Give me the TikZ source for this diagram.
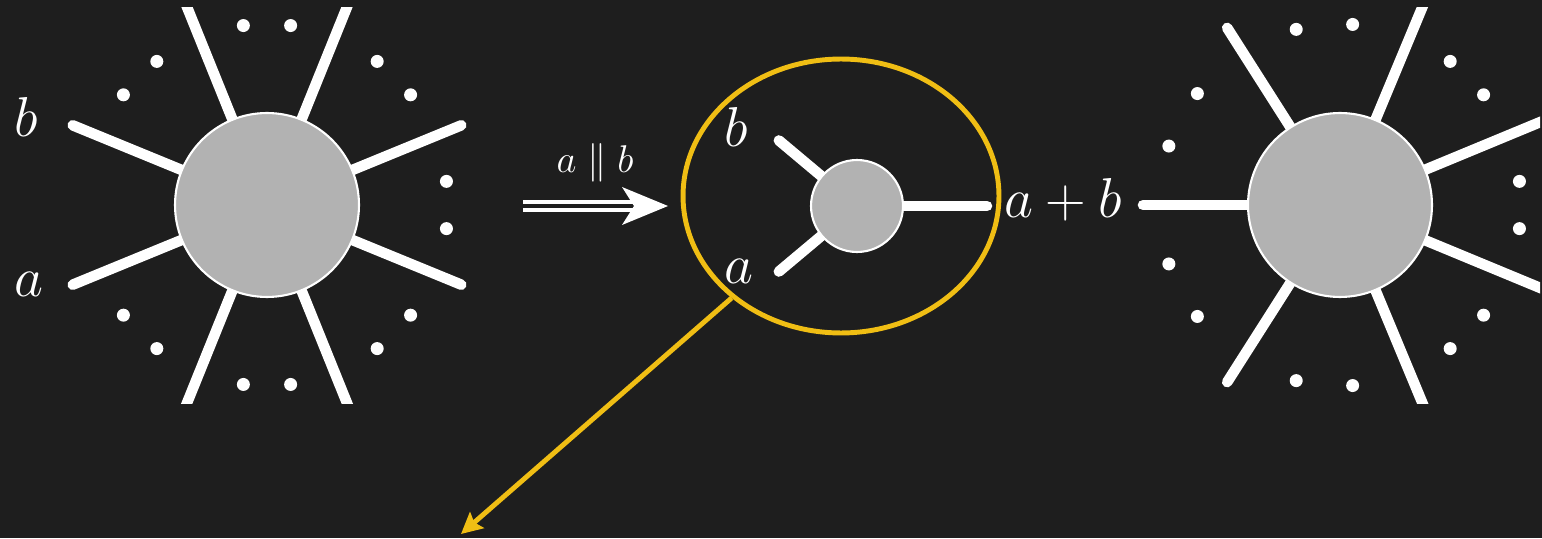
\documentclass[tikz,border=0pt]{standalone}
\usepackage{fix-cm}
\usepackage{amsmath}
\usetikzlibrary{arrows.meta,shapes.geometric}
\definecolor{bgdark}{RGB}{30,30,30}
\definecolor{blobgray}{RGB}{178,178,178}
\definecolor{ringgold}{RGB}{240,190,20}

\begin{document}
\begin{tikzpicture}[x=0.02cm,y=0.02cm,
    leg/.style={white,line width=6pt,line cap=round},
    blob/.style={circle,draw=white,fill=blobgray,line width=1.2pt,inner sep=0pt},
    lbl/.style={white,inner sep=0pt,font=\fontsize{32}{38}\selectfont}]
  % Dark backdrop; it also fixes the size of the page.
  \fill[bgdark] (0,0) rectangle (1542,538);
  \useasboundingbox (0,0) rectangle (1542,538);

  % Centres of the two large blobs and of the small vertex.
  \coordinate (Lc) at (267,333);
  \coordinate (Rc) at (1340,333);
  \coordinate (Sc) at (857,332);

  % Legs of the left blob.  The four steep ones run out of the frame.
  \begin{scope}
    \clip (0,135) rectangle (530,530);
    \foreach \ang/\len in {157.7/210,202.3/210,22.3/210,-22.3/210,
                           112/260,68/260,248/260,292/260}
      \draw[leg] (Lc) -- ([shift={(\ang:\len)}]Lc);
  \end{scope}

  % Legs of the right blob, cut by the right and top edges.
  \begin{scope}
    \clip (1100,135) rectangle (1540,530);
    \foreach \ang/\len in {180/197,122.5/210,237.5/210,
                           67.4/260,-67.4/260,22.5/260,-22.5/260}
      \draw[leg] (Rc) -- ([shift={(\ang:\len)}]Rc);
  \end{scope}

  % Dots standing for the omitted legs.
  \foreach \ang in {7.5,-7.5,37.5,52.5,-37.5,-52.5,82.5,97.5,-82.5,-97.5,
                    127.5,142.5,-127.5,-142.5}
    \fill[white] ([shift={(\ang:181)}]Lc) circle (6.5);
  \foreach \ang in {7.5,-7.5,37.5,52.5,-37.5,-52.5,86,104,-86,-104,
                    142,161,-142,-161}
    \fill[white] ([shift={(\ang:181)}]Rc) circle (6.5);

  % Legs of the small three-point vertex.
  \foreach \ang/\len in {140/102,220/102,0/130}
    \draw[leg] (Sc) -- ([shift={(\ang:\len)}]Sc);

  % The blobs themselves, on top of the legs.
  \node[blob,minimum size=3.68cm] (L) at (Lc) {};
  \node[blob,minimum size=3.68cm] (R) at (Rc) {};
  \node[blob,minimum size=1.84cm] (S) at (Sc) {};

  % Yellow ring round the collinear splitting.
  \node[ellipse,draw=ringgold,line width=2.8pt,inner sep=0pt,
        minimum width=6.32cm,minimum height=5.48cm] (ring) at (841,342) {};

  % Momentum labels.
  \node[lbl,anchor=base west] (bL) at (14,401) {$b$};
  \node[lbl,anchor=base west] (aL) at (14,241) {$a$};
  \node[lbl,anchor=base west] (bS) at (724,391) {$b$};
  \node[lbl,anchor=base west] (aS) at (724,254) {$a$};
  \node[lbl,anchor=base west] (sumR) at (1004,320) {$a+b$};

  % Double arrow for the collinear limit.
  \coordinate (impFrom) at (523,332);
  \coordinate (impTip) at (668,332);
  \draw[white,line width=2.5pt,double=bgdark,double distance=1.8pt]
    (impFrom) -- ([shift={(-30,0)}]impTip);
  \fill[white] (impTip) -- ++(-46,19) -- ++(12,-19) -- ++(-12,-19) -- cycle;
  \node[white,inner sep=0pt,font=\fontsize{22}{26}\selectfont,anchor=base]
    (parLbl) at (595,365) {$a \mathrel{\|} b$};

  % Pointer out of the ring.
  \coordinate (zoomTip) at (461,4);
  \draw[ringgold,line width=2.8pt,-{Stealth[length=12pt,width=12pt,inset=2pt]}]
    (ring.223) -- (zoomTip);
\end{tikzpicture}
\end{document}
